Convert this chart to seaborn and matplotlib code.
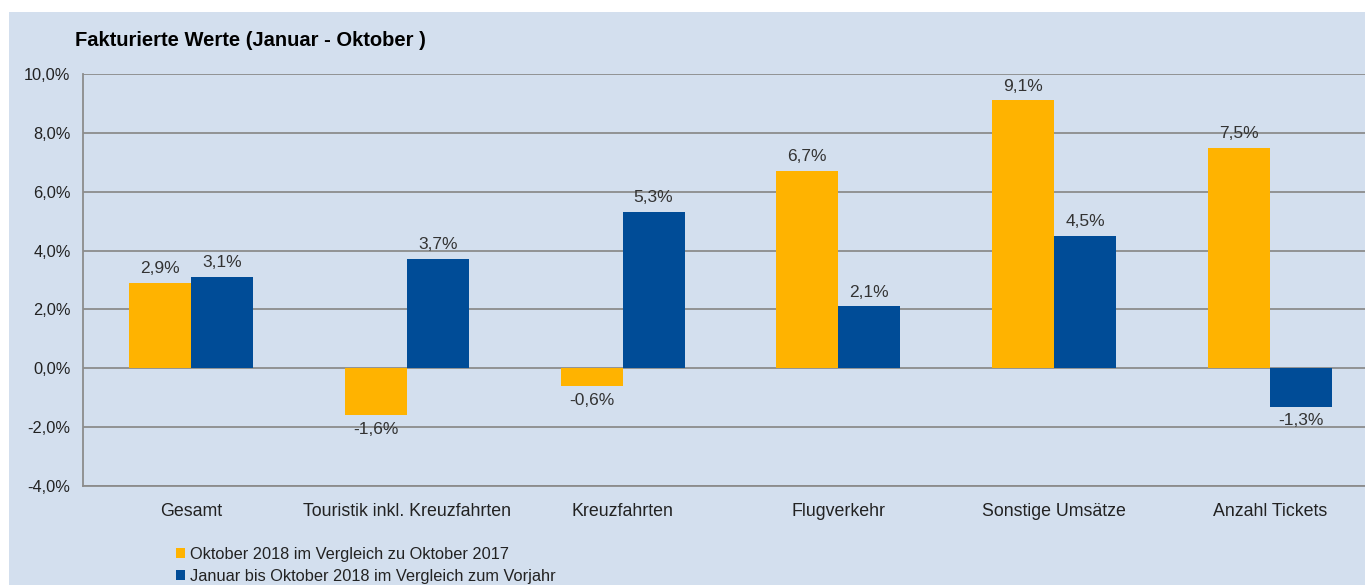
import pandas as pd
import numpy as np
import matplotlib.pyplot as plt
import seaborn as sns
from matplotlib.patches import Rectangle

# Data
categories = ['Gesamt', 'Touristik inkl. Kreuzfahrten', 'Kreuzfahrten',
              'Flugverkehr', 'Sonstige Umsätze', 'Anzahl Tickets']
oktober = [2.9, -1.6, -0.6, 6.7, 9.1, 7.5]
jan_okt = [3.1, 3.7, 5.3, 2.1, 4.5, -1.3]
series_names = ['Oktober 2018 im Vergleich zu Oktober 2017',
                'Januar bis Oktober 2018 im Vergleich zum Vorjahr']
y_ticks = [-4, -2, 0, 2, 4, 6, 8, 10]

df = pd.DataFrame({
    'Kategorie': categories * 2,
    'Wert': oktober + jan_okt,
    'Serie': [series_names[0]] * 6 + [series_names[1]] * 6,
})

sns.set_style('white')
plt.rcParams['font.family'] = ['Liberation Sans', 'DejaVu Sans']

bg = '#D3DFEE'
fig = plt.figure(figsize=(13.65, 5.85), dpi=100, facecolor='white')
fig.patches.append(Rectangle((9 / 1365, 0), 1, 1 - 12 / 585, transform=fig.transFigure,
                             facecolor=bg, edgecolor='none', zorder=-10))
ax = fig.add_axes([83 / 1365, 1 - 486 / 585, 1 - 83 / 1365, (486 - 74) / 585])
ax.set_facecolor(bg)

sns.barplot(data=df, x='Kategorie', y='Wert', hue='Serie',
            palette=['#FFB300', '#004C97'], width=0.575, saturation=1,
            linewidth=0, ax=ax, zorder=3)

for cont in ax.containers:
    labels = [f'{v:.1f}%'.replace('.', ',') for v in cont.datavalues]
    ax.bar_label(cont, labels=labels, padding=5, fontsize=12.5, color='#333333')

ax.set_ylim(-4, 10)
ax.set_xlim(-0.5, 5.44)
ax.set_yticks(y_ticks)
ax.set_yticklabels([f'{t:.1f}%'.replace('.', ',') for t in y_ticks], fontsize=11.8, color='#222222')
ax.tick_params(axis='x', labelsize=12.8, colors='#222222', length=0, pad=12)
ax.tick_params(axis='y', length=5, width=1.2, color='#8C8C8C', direction='out', pad=4)
ax.set_xlabel('')
ax.set_ylabel('')
ax.yaxis.grid(True, color='#8C8C8C', linewidth=1.3, zorder=0)
ax.set_axisbelow(True)
for s in ['top', 'right']:
    ax.spines[s].set_visible(False)
for s in ['left', 'bottom']:
    ax.spines[s].set_color('#8C8C8C')
    ax.spines[s].set_linewidth(1.3)

fig.text(75 / 1365, 1 - 40 / 585, 'Fakturierte Werte (Januar - Oktober )', fontsize=14.5,
         fontweight='bold', va='center', ha='left', color='black')

handles, lbls = ax.get_legend_handles_labels()
ax.get_legend().remove()
fig.legend(handles, lbls, loc='upper left', bbox_to_anchor=(166 / 1365, 1 - 537 / 585),
           frameon=False, fontsize=11.8, handlelength=0.55, handleheight=0.55,
           handletextpad=0.3, labelspacing=0.42, borderaxespad=0.2, labelcolor='#222222')

fig.savefig('out.png', dpi=100, facecolor='white')
